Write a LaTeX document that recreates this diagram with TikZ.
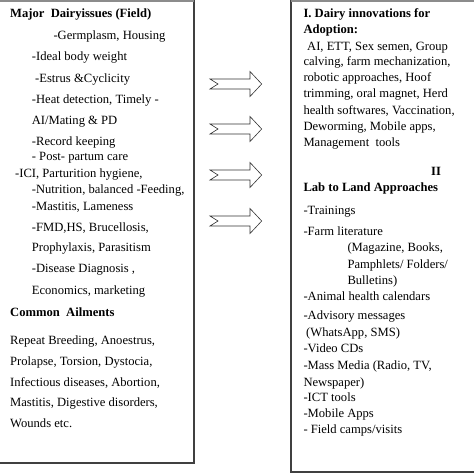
\documentclass[tikz,border=0pt]{standalone}
\usepackage{fontspec}
\setmainfont{Liberation Serif}
\begin{document}
\begin{tikzpicture}[x=1pt,y=-1pt,
  txt/.style={anchor=base west, inner sep=0pt, font=\fontsize{12.6}{15}\selectfont},
  hd/.style={anchor=base west, inner sep=0pt, font=\fontsize{12.6}{15}\selectfont\bfseries},
  boxline/.style={draw=black!75, line width=1.3pt},
  topline/.style={draw=black!45, line width=1.3pt},
  fatarrow/.style={draw=black!80, line width=0.6pt, fill=white, line join=miter}]
\useasboundingbox (0,0) rectangle (474,474);
% boxes
\draw[boxline] (-1,1) rectangle (194,463);
\draw[boxline] (291,1) rectangle (477,472);
\draw[topline] (-1,1) -- (194,1);
\draw[topline] (291,1) -- (477,1);
% left box text
\node[hd]  (l0)  at (10,17.3) {Major~ Dairyissues (Field)};
\node[txt] (l1)  at (53.3,39) {-Germplasm, Housing};
\node[txt] (l2)  at (31.7,60) {-Ideal body weight};
\node[txt] (l3)  at (35,82) {-Estrus \&Cyclicity};
\node[txt] (l4)  at (31.7,103) {-Heat detection, Timely -};
\node[txt] (l5)  at (31.7,124) {AI/Mating \& PD};
\node[txt] (l6)  at (31.7,145) {-Record keeping};
\node[txt] (l7)  at (31.7,160.7) {- Post- partum care};
\node[txt] (l8)  at (15,177.3) {-ICI, Parturition hygiene,};
\node[txt] (l9)  at (31.7,193.3) {-Nutrition, balanced -Feeding,};
\node[txt] (l10) at (31.7,210) {-Mastitis, Lameness};
\node[txt] (l11) at (31.7,231) {-FMD,HS, Brucellosis,};
\node[txt] (l12) at (31.7,251.7) {Prophylaxis, Parasitism};
\node[txt] (l13) at (31.7,272.7) {-Disease Diagnosis ,};
\node[txt] (l14) at (31.7,294) {Economics, marketing};
\node[hd]  (l15) at (10,316) {Common~ Ailments};
\node[txt] (l16) at (10,344) {Repeat Breeding, Anoestrus,};
\node[txt] (l17) at (10,365) {Prolapse, Torsion, Dystocia,};
\node[txt] (l18) at (10,386) {Infectious diseases, Abortion,};
\node[txt] (l19) at (10,406.7) {Mastitis, Digestive disorders,};
\node[txt] (l20) at (10,427.3) {Wounds etc.};
% right box text
\node[hd]  (r0)  at (303.3,17.3) {I. Dairy innovations for};
\node[hd]  (r1)  at (303.3,33.3) {Adoption:};
\node[txt] (r2)  at (307,50) {AI, ETT, Sex semen, Group};
\node[txt] (r3)  at (303.3,65.7) {calving, farm mechanization,};
\node[txt] (r4)  at (303.3,81.7) {robotic approaches, Hoof};
\node[txt] (r5)  at (303.3,97.7) {trimming, oral magnet, Herd};
\node[txt] (r6)  at (303.3,114.3) {health softwares, Vaccination,};
\node[txt] (r7)  at (303.3,130) {Deworming, Mobile apps,};
\node[txt] (r8)  at (303.3,146.7) {Management~ tools};
\node[hd]  (r9)  at (431,175) {II};
\node[hd]  (r10) at (303.3,191.7) {Lab to Land Approaches};
\node[txt] (r11) at (303.3,214.3) {-Trainings};
\node[txt] (r12) at (303.3,235) {-Farm literature};
\node[txt] (r13) at (347.3,251.7) {(Magazine, Books,};
\node[txt] (r14) at (347.3,268.3) {Pamphlets/ Folders/};
\node[txt] (r15) at (347.3,284.3) {Bulletins)};
\node[txt] (r16) at (303.3,300) {-Animal health calendars};
\node[txt] (r17) at (303.3,319.3) {-Advisory messages};
\node[txt] (r18) at (306,336.7) {(WhatsApp, SMS)};
\node[txt] (r19) at (303.3,352.7) {-Video CDs};
\node[txt] (r20) at (303.3,369.3) {-Mass Media (Radio, TV,};
\node[txt] (r21) at (303.3,386) {Newspaper)};
\node[txt] (r22) at (303.3,401.7) {-ICT tools};
\node[txt] (r23) at (303.3,417.7) {-Mobile Apps};
\node[txt] (r24) at (303.3,433.3) {- Field camps/visits};
% block arrows
\foreach \yy in {84,129,175,221}{
  \draw[fatarrow] (210,\yy-5) -- (250,\yy-5) -- (250,\yy-12.5) -- (261.7,\yy)
    -- (250,\yy+12.5) -- (250,\yy+5) -- (210,\yy+5) -- (218,\yy) -- cycle;
}
\end{tikzpicture}
\end{document}
